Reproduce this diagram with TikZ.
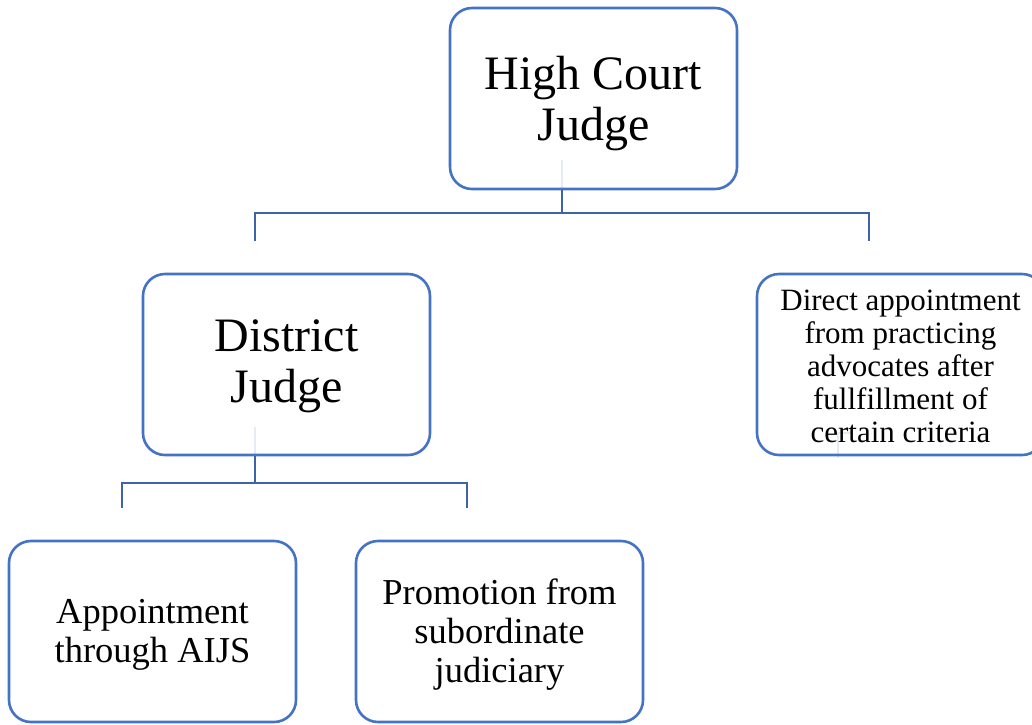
\documentclass[tikz,border=0pt]{standalone}
\usepackage{fontspec}
\setmainfont{Liberation Serif}
\definecolor{boxblue}{HTML}{4472C4}
\definecolor{linkblue}{HTML}{3F62A8}
\definecolor{faint}{HTML}{E6EBF5}
\begin{document}
\begin{tikzpicture}[x=1pt,y=-1pt,
  box/.style={draw=boxblue,line width=2.6pt,rounded corners=22pt,
    minimum width=287pt,minimum height=181pt,inner sep=0pt},
  txt/.style={align=center,inner sep=0pt},
  big/.style={txt,font=\fontsize{48}{51}\selectfont},
  mid/.style={txt,font=\fontsize{36.5}{39}\selectfont},
  small/.style={txt,font=\fontsize{31}{33}\selectfont},
  link/.style={draw=linkblue,line width=2.8pt},
  ghost/.style={draw=faint,line width=2pt}]
\fill[white] (0,0) rectangle (1032,724);
\useasboundingbox (0,0) rectangle (1032,724);
% faint artefacts inside the boxes
\coordinate (g1) at (562,160);
\coordinate (g1e) at (562,189);
\coordinate (g2) at (255,427);
\coordinate (g2e) at (255,456);
\coordinate (g3) at (838,433);
\coordinate (g3b) at (853,433);
\coordinate (g3e) at (838,458);
\draw[ghost] (g1) -- (g1e);
\draw[ghost] (g2) -- (g2e);
\draw[ghost] (g3b) -- (g3) -- (g3e);
% boxes
\node[box] (hc) at (593.5,98.5) {};
\node[box] (dj) at (286.5,364.5) {};
\node[box] (da) at (900.5,364.5) {};
\node[box] (ap) at (152.5,631.5) {};
\node[box] (pr) at (499.5,631.5) {};
% texts
\node[big] (hct) at ([yshift=-5pt]hc.center) {High Court\\Judge};
\node[big] (djt) at ([yshift=-2pt]dj.center) {District\\Judge};
\node[small] (dat) at ([yshift=-2pt]da.center) {Direct appointment\\from practicing\\advocates after\\fullfillment of\\certain criteria};
\node[mid] (apt) at ([yshift=-3pt]ap.center) {Appointment\\through AIJS};
\node[mid] (prt) at ([yshift=-3pt]pr.center) {Promotion from\\subordinate\\judiciary};
% connectors
\coordinate (j1) at (562,213);
\coordinate (l1) at (255,213);
\coordinate (r1) at (869,213);
\coordinate (l1e) at (255,241);
\coordinate (r1e) at (869,241);
\draw[link] (j1 |- hc.south) -- (j1);
\draw[link] (l1e) -- (l1) -- (r1) -- (r1e);
\coordinate (j2) at (255,483);
\coordinate (l2) at (122,483);
\coordinate (r2) at (467,483);
\coordinate (l2e) at (122,508);
\coordinate (r2e) at (467,508);
\draw[link] (j2 |- dj.south) -- (j2);
\draw[link] (l2e) -- (l2) -- (r2) -- (r2e);
\end{tikzpicture}
\end{document}
